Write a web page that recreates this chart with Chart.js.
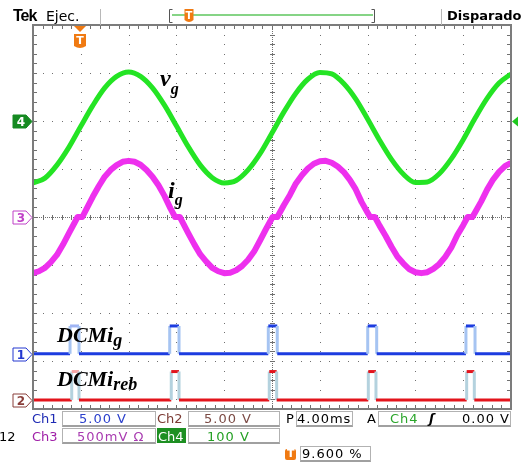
<!DOCTYPE html>
<html>
<head>
<meta charset="utf-8">
<script src="https://cdn.jsdelivr.net/npm/chart.js@4.4.0/dist/chart.umd.min.js"></script>
<style>
  html, body { margin: 0; padding: 0; background: #fff; }
  #scope { position: relative; width: 524px; height: 463px; overflow: hidden; font-family: "DejaVu Sans", sans-serif; }
  #scope canvas { position: absolute; left: 0; top: 0; }
  .t { position: absolute; white-space: nowrap; font-size: 13px; line-height: 1; }
  .v { letter-spacing: 1px; }
  .box { position: absolute; box-sizing: border-box; border: 1px solid #b2b2b2; border-bottom: 2px solid #a0a0a0; }
  .lbl { position: absolute; white-space: nowrap; line-height: 1; color: #000;
         font-family: "Liberation Serif", "Times New Roman", serif; font-weight: bold; font-style: italic; }
  .lbl sub { line-height: 1; }
</style>
</head>
<body>
<div id="scope">
  <canvas id="c" width="524" height="463"></canvas>

  <!-- status bar -->
  <div class="t" style="left:13px;top:7px;font:bold 16px 'Liberation Sans';letter-spacing:-1px">Tek</div>
  <div class="t" style="left:46px;top:9px;font-size:14px">Ejec.</div>
  <div class="t" style="left:447px;top:9px;font-weight:bold">Disparado</div>

  <!-- trace names -->
  <div class="lbl" style="left:160px;top:66px;font-size:24px">v<sub style="font-size:16px;vertical-align:-8px">g</sub></div>
  <div class="lbl" style="left:168px;top:178px;font-size:24px">i<sub style="font-size:16px;vertical-align:-7px">g</sub></div>
  <div class="lbl" style="left:57px;top:324px;font-size:22px">DCMi<sub style="font-size:18px;vertical-align:-4px">g</sub></div>
  <div class="lbl" style="left:57px;top:368px;font-size:22px">DCMi<sub style="font-size:18px;vertical-align:-4px">reb</sub></div>

  <!-- readout boxes -->
  <div class="box" style="left:62px;top:411px;width:94px;height:16px"></div>
  <div class="box" style="left:188px;top:411px;width:92px;height:16px"></div>
  <div class="box" style="left:296px;top:411px;width:57px;height:16px"></div>
  <div class="box" style="left:378px;top:411px;width:133px;height:16px"></div>
  <div class="box" style="left:62px;top:428px;width:94px;height:16px"></div>
  <div class="box" style="left:188px;top:428px;width:92px;height:16px"></div>
  <div class="box" style="left:300px;top:446px;width:71px;height:16px"></div>
  <div style="position:absolute;left:157px;top:428px;width:29px;height:15px;background:#1d8f22"></div>
  <div style="position:absolute;left:285px;top:449px;width:11px;height:11px;background:#f07a12;border-radius:2px"></div>

  <div class="t" style="left:32px;top:412px;color:#1e2ab4">Ch1</div>
  <div class="t v" style="left:79px;top:412px;color:#2a3fcc">5.00 V</div>
  <div class="t" style="left:157px;top:412px;color:#7b3a33">Ch2</div>
  <div class="t v" style="left:204px;top:412px;color:#7b4a44">5.00 V</div>
  <div class="t" style="left:286px;top:412px;color:#000">P</div>
  <div class="t v" style="left:297px;top:412px;color:#000">4.00ms</div>
  <div class="t" style="left:367px;top:412px;color:#000">A</div>
  <div class="t v" style="left:390px;top:412px;color:#2aa52a">Ch4</div>
  <div class="t" style="left:429px;top:412px;color:#000;font-weight:bold;font-style:italic">ʃ</div>
  <div class="t v" style="left:462px;top:412px;color:#000">0.00 V</div>

  <div class="t" style="left:-1px;top:430px;color:#000">12</div>
  <div class="t" style="left:32px;top:430px;color:#a020a8">Ch3</div>
  <div class="t v" style="left:77px;top:430px;color:#a83ab0">500mV Ω</div>
  <div class="t" style="left:158px;top:430px;color:#fff">Ch4</div>
  <div class="t v" style="left:207px;top:430px;color:#24a024">100 V</div>

  <div class="t" style="left:287px;top:448px;color:#fff;font-weight:bold;font-size:11px">T</div>
  <div class="t v" style="left:302px;top:447px;color:#000">9.600 %</div>
</div>

<script>
// time axis in ms (4 ms/div, 10 div), amplitudes in screen divisions
const timeMs = [0, 1, 2, 3, 4, 5, 6, 7, 8, 9, 10, 11, 12, 13, 14, 15, 16, 17, 18, 19, 20,
                21, 22, 23, 24, 25, 26, 27, 28, 29, 30, 31, 32, 33, 34, 35, 36, 37, 38, 39, 40];
const vgDiv = [0.71, 0.81, 1.08, 1.45, 1.89, 2.32, 2.69, 2.93, 3.02, 2.93, 2.69, 2.33, 1.90, 1.46,
               1.08, 0.82, 0.71, 0.76, 0.98, 1.32, 1.75, 2.19, 2.58, 2.87, 3.01, 2.98, 2.78, 2.46,
               2.04, 1.60, 1.20, 0.89, 0.72, 0.73, 0.90, 1.21, 1.61, 2.06, 2.47, 2.79, 2.98];

// grid current, with the short flat step at each zero crossing
const igTime = [0, 0.5, 1, 1.5, 2, 2.5, 3, 3.5, 3.73, 4.13, 4.5, 5, 5.5, 6, 6.5, 7, 7.5, 8, 8.5, 9,
                9.5, 10, 10.5, 11, 11.5, 11.89, 12.29, 12.5, 13, 13.5, 14, 14.5, 15, 15.5, 16, 16.5,
                17, 17.5, 18, 18.5, 19, 19.5, 20.05, 20.45, 21, 21.5, 22, 22.5, 23, 23.5, 24, 24.5,
                25, 25.5, 26, 26.5, 27, 27.5, 28, 28.21, 28.61, 29, 29.5, 30, 30.5, 31, 31.5, 32,
                32.5, 33, 33.5, 34, 34.5, 35, 35.5, 36, 36.37, 36.77, 37, 37.5, 38, 38.5, 39, 39.5, 40];
const igDiv = [-1.17, -1.13, -1.06, -0.94, -0.79, -0.58, -0.34, -0.11, 0, 0, 0.18, 0.42, 0.64, 0.84,
               0.98, 1.08, 1.15, 1.17, 1.15, 1.09, 0.98, 0.84, 0.66, 0.44, 0.18, 0, 0, -0.10, -0.34,
               -0.57, -0.78, -0.93, -1.06, -1.13, -1.17, -1.16, -1.11, -1.02, -0.89, -0.72, -0.49,
               -0.25, 0, 0, 0.25, 0.46, 0.70, 0.87, 1.01, 1.11, 1.16, 1.17, 1.13, 1.05, 0.94, 0.78,
               0.58, 0.31, 0.09, 0, 0, -0.18, -0.39, -0.62, -0.83, -0.97, -1.09, -1.15, -1.17, -1.15,
               -1.08, -0.98, -0.83, -0.64, -0.38, -0.17, 0, 0, 0.10, 0.32, 0.57, 0.78, 0.94, 1.06, 1.13];

// DCM flags (logic level pulses around each zero crossing)
const dcmIgTime = [0, 3.10, 3.10, 3.85, 3.85, 11.44, 11.44, 12.22, 12.22, 19.69, 19.69, 20.44, 20.44,
                   28.01, 28.01, 28.76, 28.76, 36.23, 36.23, 36.99, 36.99, 40];
const dcmIgDiv = [-2.85, -2.85, -2.27, -2.27, -2.85, -2.85, -2.27, -2.27, -2.85, -2.85, -2.27, -2.27,
                  -2.85, -2.85, -2.27, -2.27, -2.85, -2.85, -2.27, -2.27, -2.85, -2.85];
const dcmIrebTime = [0, 3.24, 3.24, 3.85, 3.85, 11.57, 11.57, 12.22, 12.22, 19.77, 19.77, 20.39, 20.39,
                     28.06, 28.06, 28.70, 28.70, 36.29, 36.29, 36.93, 36.93, 40];
const dcmIrebDiv = [-3.81, -3.81, -3.22, -3.22, -3.81, -3.81, -3.22, -3.22, -3.81, -3.81, -3.22, -3.22,
                    -3.81, -3.81, -3.22, -3.22, -3.81, -3.81, -3.22, -3.22, -3.81, -3.81];
const ghostPulseMs = [3.0, 3.9];   // persisted pulse from the previous acquisition

// channel ground markers: Ch1, Ch2, Ch3, Ch4
const channelNames = ['1', '2', '3', '4'];
const channelGroundDiv = [-2.85, -3.81, 0, 2];
const channelColors = ['#2438d0', '#8a3e3a', '#c040c8', '#168a22'];
const triggerMs = 3.93;

const pts = (xs, ys) => xs.map((x, i) => ({ x: x, y: ys[i] }));

function pulseSegment(main, edge, ghost) {
  return {
    borderColor: c => {
      if (c.p0.parsed.x === c.p1.parsed.x) return edge;
      if (c.p0.parsed.x >= ghostPulseMs[0] && c.p1.parsed.x <= ghostPulseMs[1]) return ghost;
      return main;
    }
  };
}

const scopeGrid = {
  id: 'scopeGrid',
  beforeDatasetsDraw(chart) {
    const { ctx, chartArea: a, scales: { x, y } } = chart;
    ctx.save();
    ctx.fillStyle = '#707070';
    // dotted major divisions
    for (let i = 0; i <= 10; i++) {
      const px = Math.round(x.getPixelForValue(i * 4));
      for (let j = 0; j <= 40; j++) ctx.fillRect(px, Math.round(y.getPixelForValue(-4 + j * 0.2)), 1, 1);
    }
    for (let j = 0; j <= 8; j++) {
      const py = Math.round(y.getPixelForValue(-4 + j));
      for (let i = 0; i <= 50; i++) ctx.fillRect(Math.round(x.getPixelForValue(i * 0.8)), py, 1, 1);
    }
    // centre graticule with minor ticks
    const cx = Math.round(x.getPixelForValue(20)), cy = Math.round(y.getPixelForValue(0));
    for (let py = a.top; py < a.bottom; py += 2) ctx.fillRect(cx, py, 1, 1);
    for (let px = a.left; px < a.right; px += 2) ctx.fillRect(px, cy, 1, 1);
    for (let j = 0; j <= 40; j++) {
      const py = Math.round(y.getPixelForValue(-4 + j * 0.2));
      ctx.fillRect(cx - 2, py, 5, 1);
      ctx.fillRect(a.left, py, 4, 1);
      ctx.fillRect(a.right - 4, py, 4, 1);
    }
    for (let i = 0; i <= 50; i++) {
      const px = Math.round(x.getPixelForValue(i * 0.8));
      ctx.fillRect(px, cy - 2, 1, 5);
      ctx.fillRect(px, a.top, 1, 4);
      ctx.fillRect(px, a.bottom - 4, 1, 4);
    }
    ctx.restore();
  },
  afterDatasetsDraw(chart) {
    const { ctx, chartArea: a } = chart;
    ctx.save();
    ctx.strokeStyle = '#7c7c7c';
    ctx.lineWidth = 2;
    ctx.strokeRect(a.left, a.top, a.right - a.left, a.bottom - a.top);
    ctx.restore();
  }
};

function tBadge(ctx, cx, top, w, h) {
  ctx.fillStyle = '#f07a12';
  ctx.beginPath();
  ctx.moveTo(cx - w / 2, top);
  ctx.lineTo(cx + w / 2, top);
  ctx.lineTo(cx + w / 2, top + h - 3);
  ctx.quadraticCurveTo(cx, top + h + 1, cx - w / 2, top + h - 3);
  ctx.closePath();
  ctx.fill();
  ctx.fillStyle = '#fff';
  ctx.font = 'bold ' + (h - 4) + 'px "DejaVu Sans"';
  ctx.textAlign = 'center';
  ctx.textBaseline = 'middle';
  ctx.fillText('T', cx, top + h / 2);
}

const scopeMarks = {
  id: 'scopeMarks',
  afterDraw(chart) {
    const { ctx, chartArea: a, scales: { x, y } } = chart;
    ctx.save();

    // separators in the status bar
    ctx.fillStyle = '#b8b8b8';
    ctx.fillRect(100, 9, 1, 16);
    ctx.fillRect(441, 9, 1, 16);

    // record view bracket
    ctx.fillStyle = '#86d486';
    ctx.fillRect(172, 14, 201, 2);
    ctx.strokeStyle = '#555';
    ctx.lineWidth = 1;
    ctx.beginPath();
    ctx.moveTo(172.5, 9.5); ctx.lineTo(169.5, 9.5); ctx.lineTo(169.5, 22.5); ctx.lineTo(172.5, 22.5);
    ctx.moveTo(371.5, 9.5); ctx.lineTo(374.5, 9.5); ctx.lineTo(374.5, 22.5); ctx.lineTo(371.5, 22.5);
    ctx.stroke();
    tBadge(ctx, 189, 9, 9, 14);

    // trigger position
    const tx = Math.round(x.getPixelForValue(triggerMs));
    ctx.fillStyle = '#f07a12';
    ctx.beginPath();
    ctx.moveTo(tx - 6, a.top + 1); ctx.lineTo(tx + 6, a.top + 1); ctx.lineTo(tx, a.top + 7);
    ctx.closePath();
    ctx.fill();
    tBadge(ctx, tx, a.top + 9, 12, 15);

    // channel ground tags
    channelNames.forEach((name, i) => {
      const cy = Math.round(y.getPixelForValue(channelGroundDiv[i])) + 0.5;
      const r = a.left - 1, l = a.left - 20;
      ctx.beginPath();
      ctx.moveTo(l, cy - 6.5); ctx.lineTo(r - 6, cy - 6.5); ctx.lineTo(r, cy);
      ctx.lineTo(r - 6, cy + 6.5); ctx.lineTo(l, cy + 6.5);
      ctx.closePath();
      const filled = name === '4';
      ctx.fillStyle = filled ? channelColors[i] : '#fff';
      ctx.fill();
      ctx.strokeStyle = channelColors[i];
      ctx.lineWidth = 1;
      ctx.stroke();
      ctx.fillStyle = filled ? '#fff' : channelColors[i];
      ctx.font = 'bold 12px "DejaVu Sans"';
      ctx.textAlign = 'center';
      ctx.textBaseline = 'middle';
      ctx.fillText(name, l + 8, cy + 1);
    });

    // Ch4 reference arrow on the right edge
    const gy = Math.round(y.getPixelForValue(channelGroundDiv[3])) + 0.5;
    ctx.fillStyle = '#1ec81e';
    ctx.beginPath();
    ctx.moveTo(a.right + 1, gy); ctx.lineTo(a.right + 7, gy - 5); ctx.lineTo(a.right + 7, gy + 5);
    ctx.closePath();
    ctx.fill();
    ctx.restore();
  }
};

new Chart(document.getElementById('c'), {
  type: 'line',
  data: {
    datasets: [
      {
        label: 'DCMi_reb',
        data: pts(dcmIrebTime, dcmIrebDiv),
        borderColor: '#e3141c',
        borderWidth: 3,
        pointRadius: 0,
        segment: pulseSegment('#e3141c', '#b4d2de', '#f4a4a4')
      },
      {
        label: 'DCMi_g',
        data: pts(dcmIgTime, dcmIgDiv),
        borderColor: '#1c3ce0',
        borderWidth: 3,
        pointRadius: 0,
        segment: pulseSegment('#1c3ce0', '#a6c4f2', '#9fb4f4')
      },
      {
        label: 'i_g',
        data: pts(igTime, igDiv),
        borderColor: '#ee30ee',
        borderWidth: 6,
        borderJoinStyle: 'round',
        pointRadius: 0,
        tension: 0
      },
      {
        label: 'v_g',
        data: pts(timeMs, vgDiv),
        borderColor: '#24e424',
        borderWidth: 5,
        pointRadius: 0,
        cubicInterpolationMode: 'monotone'
      }
    ]
  },
  options: {
    responsive: false,
    animation: false,
    devicePixelRatio: 1,
    events: [],
    layout: { padding: { left: 33, right: 13, top: 25, bottom: 54 } },
    plugins: { legend: { display: false }, tooltip: { enabled: false } },
    scales: {
      x: { type: 'linear', min: 0, max: 40, display: false },
      y: { min: -4, max: 4, display: false }
    }
  },
  plugins: [scopeGrid, scopeMarks]
});
</script>
</body>
</html>
